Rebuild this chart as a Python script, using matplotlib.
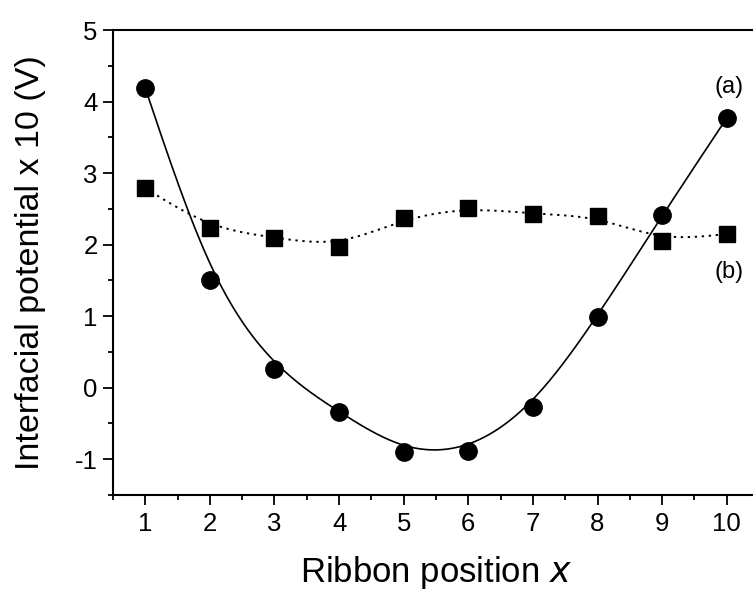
import numpy as np
import matplotlib
matplotlib.use("Agg")
import matplotlib.pyplot as plt
from matplotlib.ticker import MultipleLocator

plt.rcParams['font.family'] = ['Liberation Sans', 'DejaVu Sans']
plt.rcParams['axes.unicode_minus'] = False

x = [1, 2, 3, 4, 5, 6, 7, 8, 9, 10]
ya = [4.19, 1.50, 0.26, -0.34, -0.90, -0.89, -0.27, 0.99, 2.41, 3.77]
yb = [2.79, 2.23, 2.10, 1.97, 2.37, 2.52, 2.43, 2.40, 2.05, 2.15]
xticks = [1, 2, 3, 4, 5, 6, 7, 8, 9, 10]
yticks = [-1, 0, 1, 2, 3, 4, 5]
xlabel = "Ribbon position $\\it{x}$"
ylabel = "Interfacial potential x 10 (V)"


def bspline_curve(xs, ys, n=60):
    """Uniform cubic B-spline with the data as control points
    (phantom end points so the curve starts/ends on the data)."""
    P = np.column_stack([np.asarray(xs, float), np.asarray(ys, float)])
    Q = np.vstack([2 * P[0] - P[1], P, 2 * P[-1] - P[-2]])
    t = np.linspace(0, 1, n)[:, None]
    b0 = (1 - t) ** 3 / 6
    b1 = (3 * t ** 3 - 6 * t ** 2 + 4) / 6
    b2 = (-3 * t ** 3 + 3 * t ** 2 + 3 * t + 1) / 6
    b3 = t ** 3 / 6
    segs = []
    for i in range(len(Q) - 3):
        segs.append(b0 * Q[i] + b1 * Q[i + 1] + b2 * Q[i + 2] + b3 * Q[i + 3])
    C = np.vstack(segs)
    return C[:, 0], C[:, 1]


fig = plt.figure(figsize=(7.53, 5.92), dpi=100)
ax = fig.add_axes([0.150, 0.164, 1.008 - 0.150, 0.949 - 0.164])

# (a)
xa_c, ya_c = bspline_curve(x, ya)
ax.plot(xa_c, ya_c, color='black', lw=1.2)
ax.plot(x, ya, 'o', color='black', ms=12.5, zorder=3)

# (b)
xb_c, yb_c = bspline_curve(x, yb)
ax.plot(xb_c, yb_c, color='black', lw=1.4, linestyle=(0, (1.2, 2.4)))
ax.plot(x, yb, 's', color='black', ms=11, zorder=3)

ax.text(10.04, 4.2, "(a)", fontsize=17, ha='center', va='center')
ax.text(10.04, 1.62, "(b)", fontsize=17, ha='center', va='center')

ax.set_xlim(0.5, 10.5)
ax.set_ylim(-1.5, 5)
ax.set_xticks(xticks)
ax.set_yticks(yticks)
ax.xaxis.set_minor_locator(MultipleLocator(0.5))
ax.yaxis.set_minor_locator(MultipleLocator(0.5))
ax.tick_params(which='major', direction='out', length=7, width=1.3, labelsize=18.5)
ax.tick_params(axis='x', which='major', pad=5)
ax.tick_params(axis='y', which='major', pad=4)
ax.tick_params(which='minor', direction='out', length=3.5, width=1.3)
ax.tick_params(top=False, right=False, which='both')
for s in ['left', 'bottom', 'top']:
    ax.spines[s].set_linewidth(1.5)
ax.spines['right'].set_visible(False)

ax.set_xlabel(xlabel, fontsize=25, labelpad=13)
ax.set_ylabel(ylabel, fontsize=24.5, labelpad=21)

fig.savefig("out.png", dpi=100)
